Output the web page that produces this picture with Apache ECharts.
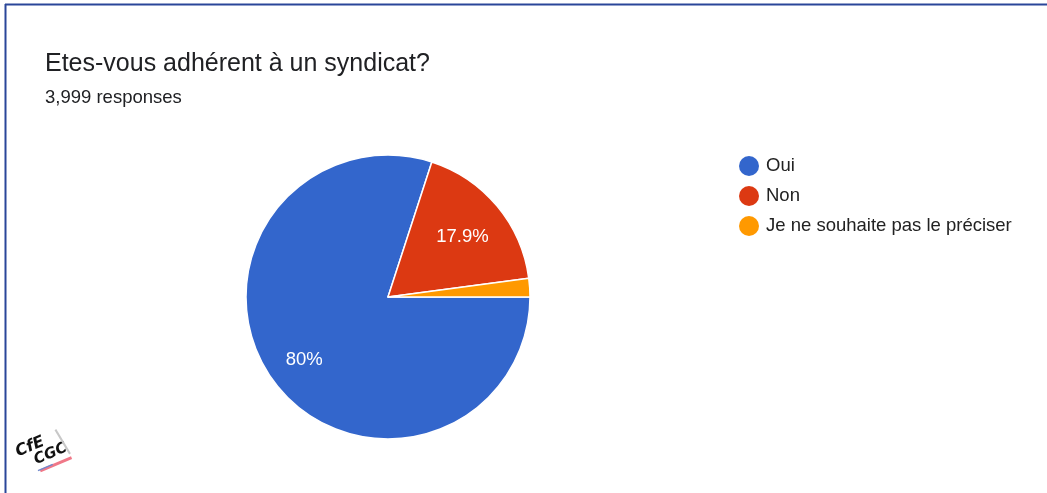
<!DOCTYPE html>
<html>
<head>
<meta charset="utf-8">
<script src="https://cdn.jsdelivr.net/npm/echarts@6/dist/echarts.min.js"></script>
<style>
  html, body { margin: 0; padding: 0; background: #fff; }
  #chart { width: 1047px; height: 493px; }
</style>
</head>
<body>
<div id="chart"></div>
<script>
// Survey answers
const categories = ['Oui', 'Non', 'Je ne souhaite pas le préciser'];
const responses = [3199, 716, 84];
const sliceColors = ['#3366cc', '#dc3912', '#ff9900'];
const titleText = 'Etes-vous adhérent à un syndicat?';
const subtitleText = '3,999 responses';

const total = responses.reduce((a, b) => a + b, 0);
const pct = v => {
  const s = (v / total * 100).toFixed(1);
  return (s.endsWith('.0') ? s.slice(0, -2) : s) + '%';
};

const pieData = categories.map((name, i) => ({
  name,
  value: responses[i],
  itemStyle: { color: sliceColors[i] }
}));

// Label layer: same slices, invisible, so percentages sit further out from the centre
const labelData = categories.map((name, i) => ({
  name,
  value: responses[i],
  label: {
    show: responses[i] / total > 0.05,
    offset: i === 1 ? [-7, 8] : [2, 1]
  }
}));

const chart = echarts.init(document.getElementById('chart'), null, { renderer: 'canvas' });
const font = '"Liberation Sans", Arial, sans-serif';

chart.setOption({
  animation: false,
  backgroundColor: '#ffffff',
  title: {
    text: titleText,
    subtext: subtitleText,
    left: 40,
    top: 47,
    itemGap: 11,
    textStyle: { fontFamily: font, fontSize: 25, fontWeight: 'normal', color: '#202124' },
    subtextStyle: { fontFamily: font, fontSize: 18.5, color: '#202124' }
  },
  legend: {
    orient: 'vertical',
    left: 734,
    top: 151,
    icon: 'circle',
    itemWidth: 20,
    itemHeight: 20,
    itemGap: 10,
    itemStyle: { borderWidth: 0 },
    data: categories,
    textStyle: { fontFamily: font, fontSize: 18.5, color: '#222222', padding: [0, 0, 0, 2] }
  },
  graphic: [
    // frame
    { type: 'line', shape: { x1: 5, y1: 4.5, x2: 1047, y2: 4.5 }, style: { stroke: '#2a4699', lineWidth: 2 } },
    { type: 'line', shape: { x1: 5.5, y1: 4, x2: 5.5, y2: 493 }, style: { stroke: '#2a4699', lineWidth: 2 } },
    // logo
    {
      type: 'group', x: 44, y: 454, rotation: 0.4,
      children: [
        { type: 'text', x: -25, y: -20, style: { text: 'CfE', font: 'italic bold 16px "DejaVu Sans", sans-serif', fill: '#111' } },
        { type: 'text', x: -11, y: -5, style: { text: 'CGC', font: 'italic bold 15px "DejaVu Sans", sans-serif', fill: '#111' } },
        { type: 'line', shape: { x1: -10, y1: 14, x2: 24, y2: 14 }, style: { stroke: '#f07888', lineWidth: 3 } },
        { type: 'line', shape: { x1: -12, y1: 13, x2: 4, y2: 13 }, style: { stroke: '#7088cc', lineWidth: 1.5 } },
        { type: 'line', shape: { x1: 20, y1: -18, x2: 24, y2: 10 }, style: { stroke: '#c8c8c8', lineWidth: 2 } }
      ]
    }
  ],
  series: [
    {
      type: 'pie',
      center: [388, 297],
      radius: [0, 142],
      startAngle: 0,
      clockwise: true,
      label: { show: false },
      labelLine: { show: false },
      itemStyle: { borderColor: '#ffffff', borderWidth: 1.5 },
      data: pieData,
      silent: true
    },
    {
      type: 'pie',
      center: [388, 297],
      radius: [64, 142],
      startAngle: 0,
      clockwise: true,
      silent: true,
      legendHoverLink: false,
      itemStyle: { color: 'rgba(0,0,0,0)' },
      label: {
        position: 'inside',
        formatter: p => pct(p.value),
        fontFamily: font,
        fontSize: 18.5,
        color: '#ffffff'
      },
      labelLine: { show: false },
      data: labelData
    }
  ]
});
</script>
</body>
</html>
